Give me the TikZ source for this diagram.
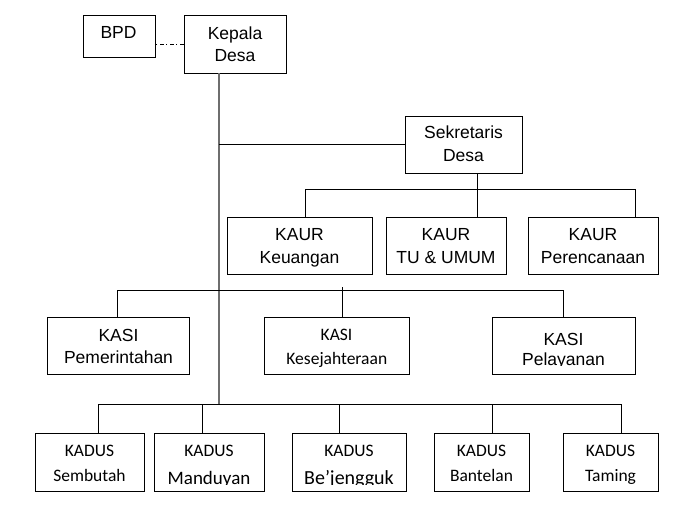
\documentclass[tikz,border=0pt]{standalone}
\usepackage{fontspec}
\setmainfont{Liberation Sans}
\newfontfamily\calfont{Carlito}
\definecolor{spinegray}{RGB}{110,110,110}
\begin{document}
\begin{tikzpicture}[x=1pt,y=-1pt,
  box/.style={draw, line width=0.9pt, inner sep=0pt},
  lbl/.style={inner sep=0pt, anchor=base, font=\fontsize{17.5}{21}\selectfont},
  clbl/.style={inner sep=0pt, anchor=base, font=\calfont\fontsize{17.5}{21}\selectfont},
  link/.style={line width=0.9pt},
  spine/.style={line width=1.5pt, draw=spinegray},
  dashlink/.style={line width=0.8pt, dash pattern=on 4pt off 2.5pt on 1pt off 2.5pt}]
\fill[white] (0,0) rectangle (692,505);
\useasboundingbox (0,0) rectangle (692,505);

% top
\node[box, minimum width=72pt, minimum height=42pt] (bpd) at (119,36) {};
\node[lbl] (bpdA) at (118.5,38.5) {BPD};
\node[box, minimum width=102pt, minimum height=58pt] (kepala) at (235,44) {};
\node[lbl] (kepA) at (235,39.7) {Kepala};
\node[lbl] (kepB) at (235,61.3) {Desa};
\node[box, minimum width=117pt, minimum height=57pt] (sek) at (463.5,144.5) {};
\node[lbl] (sekA) at (463.5,138.5) {Sekretaris};
\node[lbl] (sekB) at (463.5,161) {Desa};

% KAUR
\node[box, minimum width=145pt, minimum height=57pt] (keu) at (299.5,245.5) {};
\node[lbl] (keuA) at (299.5,240.3) {KAUR};
\node[lbl] (keuB) at (299.5,263.3) {Keuangan};
\node[box, minimum width=120pt, minimum height=57pt] (tu) at (446,245.5) {};
\node[lbl] (tuA) at (446,240.3) {KAUR};
\node[lbl] (tuB) at (446,263.3) {TU \& UMUM};
\node[box, minimum width=130pt, minimum height=57pt] (per) at (593,245.5) {};
\node[lbl] (perA) at (593,240.3) {KAUR};
\node[lbl] (perB) at (593,263.3) {Perencanaan};

% KASI
\node[box, minimum width=142pt, minimum height=57pt] (pem) at (118,345.5) {};
\node[lbl] (pemA) at (118.5,341) {KASI};
\node[lbl] (pemB) at (118.5,363.3) {Pemerintahan};
\node[box, minimum width=145pt, minimum height=57pt] (kes) at (336.5,345.5) {};
\node[clbl] (kesA) at (336.5,340.8) {KASI};
\node[clbl] (kesB) at (336.8,364.3) {Kesejahteraan};
\node[box, minimum width=143pt, minimum height=57pt] (pel) at (563.5,345.5) {};
\node[lbl] (pelA) at (563.5,345.7) {KASI};
\begin{scope}
  \clip (492,317) rectangle (635,365.5);
  \node[lbl] (pelB) at (563.5,365.3) {Pelayanan};
\end{scope}

% KADUS
\node[box, minimum width=109pt, minimum height=58pt] (sem) at (89.5,462) {};
\node[clbl] (semA) at (89.5,456.7) {KADUS};
\node[clbl] (semB) at (89.5,481.7) {Sembutah};
\node[box, minimum width=110pt, minimum height=58pt] (man) at (209,462) {};
\node[clbl] (manA) at (209,456.7) {KADUS};
\begin{scope}
  \clip (154,433) rectangle (264,484.5);
  \node[clbl, font=\calfont\fontsize{19}{21}\selectfont] (manB) at (209,484.6) {Manduyan};
\end{scope}
\node[box, minimum width=114pt, minimum height=58pt] (bej) at (349,462) {};
\node[clbl] (bejA) at (349,456.7) {KADUS};
\begin{scope}
  \clip (292,433) rectangle (406,484.5);
  \node[clbl, font=\calfont\fontsize{20}{21}\selectfont] (bejB) at (349,484.6) {Be’jengguk};
\end{scope}
\node[box, minimum width=95pt, minimum height=58pt] (ban) at (481.5,462) {};
\node[clbl] (banA) at (481.5,456.7) {KADUS};
\node[clbl] (banB) at (481.5,481.7) {Bantelan};
\node[box, minimum width=95pt, minimum height=58pt] (tam) at (610.5,462) {};
\node[clbl] (tamA) at (610.5,456.7) {KADUS};
\node[clbl] (tamB) at (610.5,481.7) {Taming};

% connectors
\draw[dashlink] (kepala.west) -- (bpd.east |- kepala.west);

\coordinate (spineEnd) at (219,404);
\draw[spine] (kepala.south -| spineEnd) -- (spineEnd);
\draw[link] (sek.west) -- (sek.west -| spineEnd);

\coordinate (sekx) at (477,189);
\coordinate (kaurL) at (305,189);
\coordinate (kaurR) at (635,189);
\draw[link] (sek.south -| sekx) -- (tu.north -| sekx);
\draw[link] (kaurL |- keu.north) -- (kaurL) -- (kaurR) -- (kaurR |- per.north);

\coordinate (kasiL) at (117,290);
\coordinate (kasiR) at (563,290);
\coordinate (kasiM) at (342,287);
\draw[link] (kasiL |- pem.north) -- (kasiL) -- (kasiR) -- (kasiR |- pel.north);
\draw[link] (kasiM) -- (kasiM |- kes.north);

\coordinate (kdL) at (98,404);
\coordinate (kd2) at (202,404);
\coordinate (kd3) at (339,404);
\coordinate (kd4) at (492,404);
\coordinate (kdR) at (621,404);
\draw[link] (kdL |- sem.north) -- (kdL) -- (kdR) -- (kdR |- tam.north);
\draw[link] (kd2) -- (kd2 |- man.north);
\draw[link] (kd3) -- (kd3 |- bej.north);
\draw[link] (kd4) -- (kd4 |- ban.north);
\end{tikzpicture}
\end{document}
